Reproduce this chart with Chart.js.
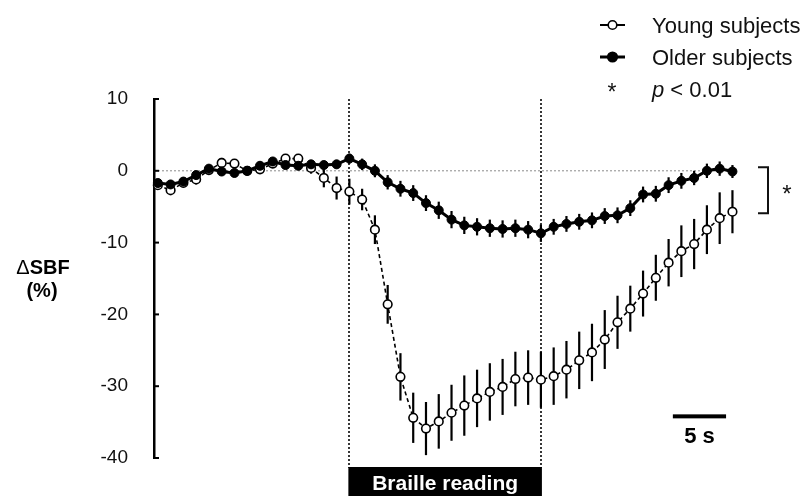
<!DOCTYPE html>
<html>
<head>
<meta charset="utf-8">
<script src="https://cdn.jsdelivr.net/npm/chart.js@4/dist/chart.umd.min.js"></script>
<style>
  html, body { margin: 0; padding: 0; background: #fff; }
  #wrap { width: 806px; height: 496px; }
</style>
</head>
<body>
<div id="wrap"><canvas id="graph" width="806" height="496"></canvas></div>
<script>
// sampling interval (s)
const TIME_STEP = 1.2;

const youngMean = [
  -2.0, -2.7, -1.7, -1.2, 0.1, 1.1, 1.0, 0.0, 0.2, 1.0,
  1.7, 1.7, 0.4, -1.0, -2.4, -2.9, -4.0, -8.2, -18.6, -28.7,
  -34.4, -35.9, -34.9, -33.7, -32.7, -31.7, -30.8, -30.1, -29.0, -28.8,
  -29.1, -28.6, -27.7, -26.4, -25.3, -23.5, -21.1, -19.2, -17.1, -14.9,
  -12.8, -11.2, -10.2, -8.2, -6.6, -5.7
];
const youngSem = [
  0.6, 0.7, 0.6, 0.7, 0.5, 0.7, 0.6, 0.5, 0.6, 0.6,
  0.6, 0.6, 0.8, 1.3, 1.6, 1.8, 1.5, 2.0, 2.7, 3.3,
  3.5, 3.7, 3.8, 3.9, 4.2, 4.0, 4.0, 3.9, 3.8, 3.8,
  3.9, 4.0, 4.0, 4.0, 4.0, 4.1, 3.7, 3.2, 3.2, 3.2,
  3.3, 3.6, 3.5, 3.4, 3.6, 3.0
];
const olderMean = [
  -1.7, -1.9, -1.5, -0.6, 0.3, -0.1, -0.3, 0.0, 0.7, 1.3,
  0.8, 0.7, 0.9, 0.8, 0.9, 1.7, 0.9, 0.0, -1.6, -2.5,
  -3.1, -4.5, -5.5, -6.8, -7.6, -7.8, -8.0, -8.1, -8.0, -8.2,
  -8.7, -7.8, -7.4, -7.1, -6.9, -6.3, -6.2, -5.2, -3.3, -3.2,
  -2.0, -1.4, -1.0, 0.0, 0.3, -0.1
];
const olderSem = [
  0.6, 0.6, 0.6, 0.6, 0.6, 0.6, 0.6, 0.6, 0.6, 0.6,
  0.6, 0.6, 0.6, 0.6, 0.6, 0.7, 0.8, 0.9, 1.0, 1.1,
  1.1, 1.1, 1.2, 1.2, 1.2, 1.2, 1.2, 1.2, 1.2, 1.2,
  1.2, 1.1, 1.1, 1.1, 1.1, 1.1, 1.1, 1.1, 1.1, 1.1,
  1.1, 1.1, 1.0, 1.0, 1.0, 0.9
];
const yTicks = [10, 0, -10, -20, -30, -40];
const seriesLabels = ['Young subjects', 'Older subjects'];

const readingStart = 18;   // s
const readingEnd = 36;     // s
const scaleBarStart = 48.4; // s
const scaleBarLength = 5;   // s
const sigRange = [0.5, -5.9];

const times = youngMean.map((_, i) => +(i * TIME_STEP).toFixed(1));
const FONT = '"Liberation Sans", Arial, Helvetica, sans-serif';

function toPoints(values) {
  return values.map((v, i) => ({ x: times[i], y: v }));
}

const errorBars = {
  id: 'errorBars',
  beforeDatasetDraw(chart, args) {
    const ds = chart.data.datasets[args.index];
    const y = chart.scales.y;
    const ctx = chart.ctx;
    ctx.save();
    ctx.strokeStyle = '#000';
    ctx.lineWidth = 2.2;
    args.meta.data.forEach((pt, i) => {
      const v = ds.data[i].y;
      const e = ds.sem[i];
      ctx.beginPath();
      ctx.moveTo(pt.x, y.getPixelForValue(v + e));
      ctx.lineTo(pt.x, y.getPixelForValue(v - e));
      ctx.stroke();
    });
    ctx.restore();
  }
};

const decorations = {
  id: 'decorations',
  beforeDatasetsDraw(chart) {
    const { ctx, chartArea, scales: { x, y } } = chart;
    ctx.save();
    // zero line
    ctx.strokeStyle = '#8a8a8a';
    ctx.lineWidth = 1;
    ctx.setLineDash([2, 2]);
    ctx.beginPath();
    ctx.moveTo(chartArea.left, y.getPixelForValue(0));
    ctx.lineTo(x.getPixelForValue(times[times.length - 1]), y.getPixelForValue(0));
    ctx.stroke();
    // reading period markers
    ctx.strokeStyle = '#222';
    ctx.lineWidth = 1.8;
    [readingStart, readingEnd].forEach(t => {
      const px = Math.round(x.getPixelForValue(t));
      ctx.beginPath();
      ctx.moveTo(px, y.getPixelForValue(10));
      ctx.lineTo(px, chartArea.bottom + 10);
      ctx.stroke();
    });
    ctx.restore();
  },
  afterDraw(chart) {
    const { ctx, chartArea, scales: { x, y } } = chart;
    ctx.save();
    ctx.fillStyle = '#000';
    ctx.strokeStyle = '#000';

    // inward tick marks
    ctx.lineWidth = 2;
    yTicks.forEach(v => {
      const py = y.getPixelForValue(v);
      ctx.beginPath();
      ctx.moveTo(chartArea.left, py);
      ctx.lineTo(chartArea.left + 5, py);
      ctx.stroke();
    });

    // y axis title
    ctx.textBaseline = 'alphabetic';
    ctx.textAlign = 'left';
    ctx.font = `20px ${FONT}`;
    const wD = ctx.measureText('\u0394').width;
    ctx.font = `bold 20px ${FONT}`;
    const wS = ctx.measureText('SBF').width;
    let tx = 43 - (wD + wS) / 2;
    ctx.font = `20px ${FONT}`;
    ctx.fillText('\u0394', tx, 274);
    ctx.font = `bold 20px ${FONT}`;
    ctx.fillText('SBF', tx + wD, 274);
    ctx.textAlign = 'center';
    ctx.fillText('(%)', 42, 297);

    // legend
    const lx = 600, tx0 = 652;
    const rows = [25, 57, 89];
    ctx.textAlign = 'left';
    ctx.font = `22px ${FONT}`;
    ctx.fillStyle = '#111';
    seriesLabels.forEach((label, i) => {
      const ry = rows[i];
      ctx.lineWidth = i === 0 ? 2 : 3;
      ctx.beginPath();
      ctx.moveTo(lx, ry);
      ctx.lineTo(lx + 25, ry);
      ctx.stroke();
      ctx.beginPath();
      ctx.arc(lx + 12.5, ry, i === 0 ? 4.3 : 4.8, 0, Math.PI * 2);
      ctx.fillStyle = i === 0 ? '#fff' : '#000';
      ctx.fill();
      ctx.lineWidth = 1.6;
      ctx.stroke();
      ctx.fillStyle = '#111';
      ctx.fillText(label, tx0, ry + 8);
    });
    ctx.font = `23px ${FONT}`;
    ctx.textAlign = 'center';
    ctx.fillText('*', lx + 12, rows[2] + 11);
    ctx.textAlign = 'left';
    ctx.font = `italic 22px ${FONT}`;
    ctx.fillText('p', tx0, rows[2] + 8);
    const pw = ctx.measureText('p ').width;
    ctx.font = `22px ${FONT}`;
    ctx.fillText('< 0.01', tx0 + pw, rows[2] + 8);

    // significance bracket
    const by0 = y.getPixelForValue(sigRange[0]);
    const by1 = y.getPixelForValue(sigRange[1]);
    const bx = chartArea.right + 33;
    ctx.lineWidth = 2;
    ctx.strokeStyle = '#111';
    ctx.beginPath();
    ctx.moveTo(bx - 10, by0);
    ctx.lineTo(bx, by0);
    ctx.lineTo(bx, by1);
    ctx.lineTo(bx - 10, by1);
    ctx.stroke();
    ctx.font = `24px ${FONT}`;
    ctx.textAlign = 'center';
    ctx.fillStyle = '#111';
    ctx.fillText('*', bx + 19, (by0 + by1) / 2 + 12);

    // reading bar
    const rx0 = x.getPixelForValue(readingStart) - 1;
    const rx1 = x.getPixelForValue(readingEnd) + 1;
    const ry0 = chartArea.bottom + 9;
    ctx.fillStyle = '#000';
    ctx.fillRect(rx0, ry0, rx1 - rx0, chart.height - ry0);
    ctx.fillStyle = '#fff';
    ctx.font = `bold 21px ${FONT}`;
    ctx.textAlign = 'center';
    ctx.fillText('Braille reading', (rx0 + rx1) / 2, ry0 + 23);

    // time scale bar
    const sx0 = x.getPixelForValue(scaleBarStart);
    const sx1 = x.getPixelForValue(scaleBarStart + scaleBarLength);
    const sy = y.getPixelForValue(-34.2);
    ctx.fillStyle = '#000';
    ctx.fillRect(sx0, sy - 2, sx1 - sx0, 4);
    ctx.font = `bold 22px ${FONT}`;
    ctx.fillText(scaleBarLength + ' s', (sx0 + sx1) / 2, sy + 27);
    ctx.restore();
  }
};

const ctx = document.getElementById('graph').getContext('2d');
new Chart(ctx, {
  type: 'line',
  data: {
    datasets: [
      {
        label: seriesLabels[1],
        data: toPoints(olderMean),
        sem: olderSem,
        order: 0,
        borderColor: '#000',
        borderWidth: 3,
        pointRadius: 4.5,
        pointBackgroundColor: '#000',
        pointBorderColor: '#000',
        pointBorderWidth: 1,
        tension: 0,
        clip: false
      },
      {
        label: seriesLabels[0],
        data: toPoints(youngMean),
        sem: youngSem,
        order: 1,
        borderColor: '#000',
        borderWidth: 1.6,
        borderDash: [4, 3],
        pointRadius: 4.3,
        pointBackgroundColor: '#fff',
        pointBorderColor: '#000',
        pointBorderWidth: 1.6,
        tension: 0,
        clip: false
      }
    ]
  },
  options: {
    responsive: false,
    animation: false,
    events: [],
    layout: { padding: { top: 99, right: 71, bottom: 38, left: 0 } },
    plugins: {
      legend: { display: false },
      tooltip: { enabled: false }
    },
    scales: {
      x: {
        type: 'linear',
        display: false,
        min: -0.36,
        max: 54.24
      },
      y: {
        min: -40,
        max: 10,
        afterBuildTicks: s => { s.ticks = yTicks.map(v => ({ value: v })); },
        afterFit: s => { s.width = 154; },
        grid: { display: false, drawTicks: false },
        border: { display: true, color: '#000', width: 2.5 },
        ticks: {
          padding: 26,
          color: '#111',
          font: { size: 19, family: FONT }
        }
      }
    }
  },
  plugins: [errorBars, decorations]
});
</script>
</body>
</html>
